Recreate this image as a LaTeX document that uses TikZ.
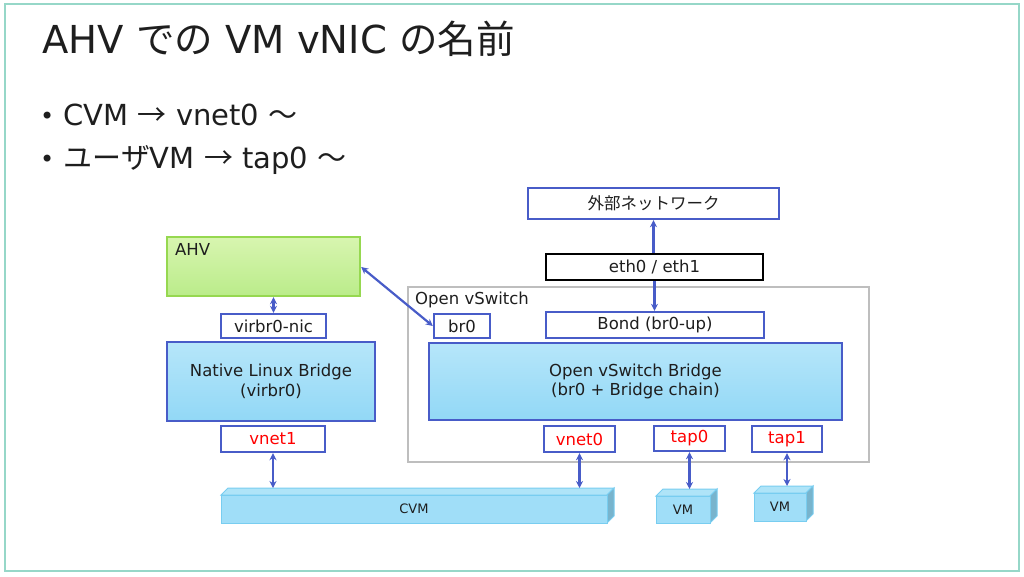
\documentclass[tikz,border=0pt]{standalone}
\usepackage{fontspec}
\setmainfont{DejaVu Sans}
\newfontfamily\jp{Noto Sans CJK JP}
\usetikzlibrary{arrows.meta,calc}
\definecolor{bblue}{RGB}{72,92,200}
\definecolor{lblueT}{RGB}{182,230,250}
\definecolor{lblueB}{RGB}{146,216,246}
\definecolor{greenT}{RGB}{216,245,176}
\definecolor{greenB}{RGB}{186,236,138}
\definecolor{greenE}{RGB}{150,216,80}
\definecolor{frameC}{RGB}{150,215,200}
\definecolor{grpC}{RGB}{190,190,190}
\definecolor{txt}{RGB}{30,30,30}
\definecolor{cubeF}{RGB}{160,222,248}
\definecolor{cubeE}{RGB}{120,205,240}
\definecolor{cubeS}{RGB}{120,180,205}
\definecolor{cubeT}{RGB}{175,228,248}
\tikzset{
  lbl/.style={font=\fontsize{16.5}{19.5}\selectfont, text=txt},
  wbox/.style={draw=bblue, line width=2.4pt, fill=white, inner sep=0pt, lbl},
  rbox/.style={wbox, text=red},
  bbox/.style={draw=bblue, line width=2.4pt, top color=lblueT, bottom color=lblueB, inner sep=0pt, lbl, align=center},
  link/.style={draw=bblue, line width=2.2pt, {Stealth[length=7pt,width=7pt]}-{Stealth[length=7pt,width=7pt]}},
  uplink/.style={draw=bblue, line width=2.2pt, -{Stealth[length=7pt,width=7pt]}},
}
\newcommand{\cubebox}[6]{% name, x1,y1,x2,y2, label
  \fill[cubeT, draw=cubeE, line width=1pt] (#2,#3) -- ++(7,-7) -- (#4+7,#3-7) -- (#4,#3) -- cycle;
  \fill[cubeS, draw=cubeE, line width=1pt] (#4,#3) -- (#4+7,#3-7) -- (#4+7,#5-7) -- (#4,#5) -- cycle;
  \node[draw=cubeE, line width=1pt, fill=cubeF, inner sep=0pt, minimum width=#4-#2, minimum height=#5-#3, font=\fontsize{13}{15}\selectfont, text=txt] (#1) at ({(#2+#4)/2},{(#3+#5)/2}) {#6};
  \coordinate (#1top) at ({(#2+#4)/2+3.5},#3-7);
}
\begin{document}
\begin{tikzpicture}[x=1pt,y=-1pt]
\useasboundingbox (0,0) rectangle (1024,576);
\draw[frameC, line width=1.5pt] (5,4) rectangle (1019,571);

\node[anchor=base west, inner sep=0pt, font=\fontsize{38.5}{42}\selectfont, text=txt] (title) at (42,53) {AHV {\jp での} VM vNIC {\jp の名前}};
\node[anchor=base west, inner sep=0pt, font=\fontsize{29}{34}\selectfont, text=txt] (b1) at (40,125) {{\fontsize{24}{26}\selectfont\raisebox{1pt}{•}} CVM {\jp →} vnet0 {\jp ～}};
\node[anchor=base west, inner sep=0pt, font=\fontsize{29}{34}\selectfont, text=txt] (b2) at (40,168) {{\fontsize{24}{26}\selectfont\raisebox{1pt}{•}} {\jp ユーザ}VM {\jp →} tap0 {\jp ～}};

% Open vSwitch group
\node[draw=grpC, line width=2.2pt, minimum width=461, minimum height=175, inner sep=0pt] (ovs) at (638.5,374.5) {};
\node[anchor=base west, lbl, inner sep=0pt] (ovslbl) at (415,304) {Open vSwitch};

\node[wbox, minimum width=251, minimum height=31] (ext) at (653.5,203.5) {\jp 外部ネットワーク};
\node[draw=black, line width=2.6pt, fill=white, inner sep=0pt, lbl, minimum width=217, minimum height=26] (eth) at (654.5,267) {eth0 / eth1};
\node[wbox, minimum width=56, minimum height=24] (br0) at (462,326) {br0};
\node[wbox, minimum width=218, minimum height=26] (bond) at (655,325) {Bond (br0-up)};
\node[bbox, minimum width=413, minimum height=77] (ovsb) at (635.5,381.5) {Open vSwitch Bridge\\(br0 + Bridge chain)};
\node[rbox, minimum width=71, minimum height=26] (vnet0) at (579.5,439) {vnet0};
\node[rbox, minimum width=71, minimum height=25] (tap0) at (689.5,438.5) {tap0};
\node[rbox, minimum width=70, minimum height=26] (tap1) at (787,439) {tap1};

\node[draw=greenE, line width=2.4pt, top color=greenT, bottom color=greenB, minimum width=193, minimum height=59, inner sep=0pt] (ahv) at (263.5,266.5) {};
\node[anchor=base west, lbl, inner sep=0pt] (ahvlbl) at (175,255) {AHV};
\node[wbox, minimum width=105, minimum height=24] (vnic) at (273.5,326) {virbr0-nic};
\node[bbox, minimum width=208, minimum height=79] (nlb) at (271,381.5) {Native Linux Bridge\\(virbr0)};
\node[rbox, minimum width=104, minimum height=26] (vnet1) at (273,439) {vnet1};

% 3D boxes
\cubebox{cvm}{221}{495}{607}{523}{CVM}
\cubebox{vm1}{656}{496}{710}{523}{VM}
\cubebox{vm2}{754}{493}{806}{521}{VM}

% connectors
\draw[link] (ahv.south -| vnic.north) -- (vnic.north);
\draw[link] (ahv.east |- 0,267) -- (br0.west);
\draw[uplink] (eth.north -| ext.south) -- (ext.south);
\draw[uplink] (eth.south) -- (bond.north -| eth.south);
\draw[link] (vnet1.south) -- (vnet1.south |- cvmtop);
\draw[link] (vnet0.south) -- (vnet0.south |- cvmtop);
\draw[link] (tap0.south) -- (tap0.south |- vm1top);
\draw[link] (tap1.south) -- (tap1.south |- vm2top);
\end{tikzpicture}
\end{document}
